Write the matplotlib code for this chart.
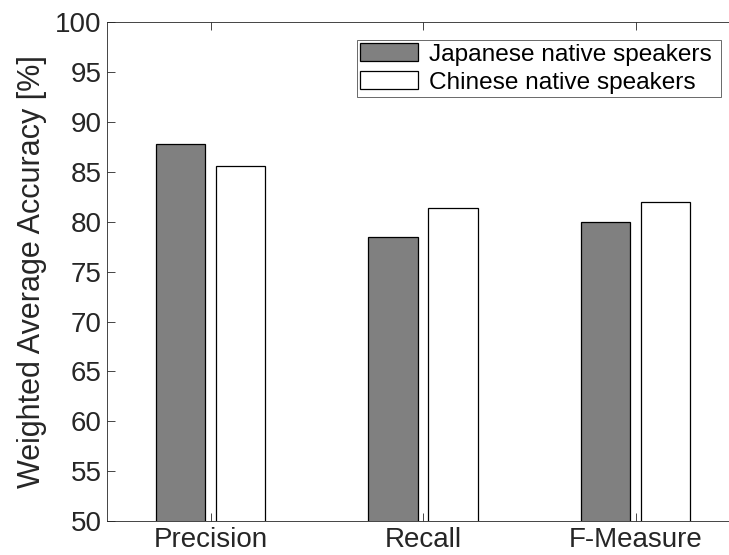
import numpy as np
import matplotlib
matplotlib.use("Agg")
import matplotlib.pyplot as plt

categories = ["Precision", "Recall", "F-Measure"]
japanese = [87.8, 78.5, 80.0]
chinese = [85.6, 81.4, 82.0]
series_names = ["Japanese native speakers", "Chinese native speakers"]

plt.rcParams['font.family'] = ['Liberation Sans', 'DejaVu Sans']
txt = '#262626'

fig = plt.figure(figsize=(7.29, 5.55), dpi=100)
# the original picture is cropped on the right: the axes run past the edge
ax = fig.add_axes([0.1468, 0.0613, 0.8745, 0.8982])

x = np.arange(1, len(categories) + 1)
w = 0.233
ax.bar(x - 0.141, japanese, w, color='#808080', edgecolor='black', linewidth=0.9,
       label=series_names[0] + " ")
ax.bar(x + 0.141, chinese, w, color='white', edgecolor='black', linewidth=0.9,
       label=series_names[1] + " ")

ax.set_xlim(0.513, 3.513)
ax.set_ylim(50, 100)
ax.set_xticks(x)
ax.set_xticklabels(categories)
ax.set_yticks(np.arange(50, 101, 5))
ax.tick_params(direction='in', top=True, right=True, labelsize=20, length=5.5,
               width=0.6, colors=txt, labelcolor=txt, pad=4)
for s in ax.spines.values():
    s.set_linewidth(0.6)
    s.set_color(txt)
ax.set_ylabel("Weighted Average Accuracy [%]", fontsize=22, color=txt, labelpad=6)

leg = ax.legend(loc='upper right', bbox_to_anchor=(721 / 729, 1 - 40 / 555),
                bbox_transform=fig.transFigure, fontsize=17.6, frameon=True,
                fancybox=False, edgecolor=txt, handlelength=2.38,
                handleheight=0.78, handletextpad=0.42, borderpad=0.12,
                labelspacing=0.22, borderaxespad=0)
leg.get_frame().set_linewidth(0.6)

fig.savefig("out.png", dpi=100)
